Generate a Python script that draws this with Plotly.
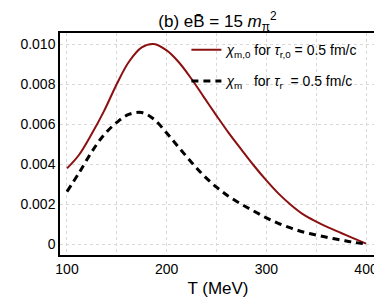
import plotly.graph_objects as go

T = [100, 112, 125, 137, 150, 162, 175, 187, 200, 212, 225, 237, 250, 262, 275, 287,
     300, 312, 325, 337, 350, 362, 375, 387, 400]

# chi_m,0 (tau_r,0 = 0.5 fm/c) -- solid dark red
chi_m0 = [0.00378, 0.00445, 0.00552, 0.00663, 0.00800, 0.00910, 0.00983, 0.01000, 0.00968,
          0.00910, 0.00825, 0.00737, 0.00642, 0.00557, 0.00472, 0.00395, 0.00318, 0.00253,
          0.00194, 0.00148, 0.00112, 0.00083, 0.00055, 0.00029, 0.00002]

# chi_m (tau_r = 0.5 fm/c) -- dashed black
chi_m = [0.00262, 0.00355, 0.00462, 0.00545, 0.00608, 0.00648, 0.00657, 0.00625, 0.00555,
         0.00484, 0.00408, 0.00343, 0.00284, 0.00239, 0.00199, 0.00166, 0.00131, 0.00103,
         0.00079, 0.00060, 0.00045, 0.00032, 0.00020, 0.00009, 0.0]

x_grid = [100, 150, 200, 250, 300, 350, 400]
x_tick_text = ["100", "", "200", "", "300", "", "400"]
y_ticks = [0, 0.002, 0.004, 0.006, 0.008, 0.010]
y_tick_text = ["0", "0.002", "0.004", "0.006", "0.008", "0.010"]

fig = go.Figure()
fig.add_trace(go.Scatter(
    x=T, y=chi_m0, mode="lines", legendgroup="a",
    line=dict(color="#8b1010", width=2, shape="spline", smoothing=1.0),
    name="<i>χ</i><sub>m,0</sub> for <i>τ</i><sub>r,0</sub> = 0.5 fm/c"))
fig.add_trace(go.Scatter(
    x=T, y=chi_m, mode="lines", legendgroup="b",
    line=dict(color="black", width=3, dash="7px,5px", shape="spline", smoothing=1.0),
    name="<i>χ</i><sub>m</sub>   for <i>τ</i><sub>r</sub>  = 0.5 fm/c"))

grid = dict(showgrid=True, gridcolor="#d8d8d8", griddash="dot", gridwidth=1)
fig.update_layout(
    width=374, height=292,
    margin=dict(l=52, r=4, t=25, b=45),
    paper_bgcolor="white", plot_bgcolor="white",
    font=dict(family="Liberation Sans, Arial", size=14, color="black"),
    title=dict(text="(b) eB\u0304 = 15 <i>m</i><sub>π</sub><sup>2</sup>", x=0.56, xanchor="center",
               y=0.955, yanchor="middle", font=dict(size=17)),
    legend=dict(x=0.40, y=0.995, xanchor="left", yanchor="top", bgcolor="rgba(0,0,0,0)",
                font=dict(size=14), tracegroupgap=10, itemwidth=30),
    xaxis=dict(range=[93, 410], tickvals=x_grid, ticktext=x_tick_text, showline=True,
               linecolor="black", linewidth=1.5, mirror=True, ticks="", zeroline=False,
               title=dict(text="T (MeV)", standoff=7), **grid),
    yaxis=dict(range=[-0.00055, 0.01055], tickvals=y_ticks, ticktext=y_tick_text, showline=True,
               linecolor="black", linewidth=1.5, mirror=True, ticks="", zeroline=False, **grid),
)
fig.write_html("out.html")
